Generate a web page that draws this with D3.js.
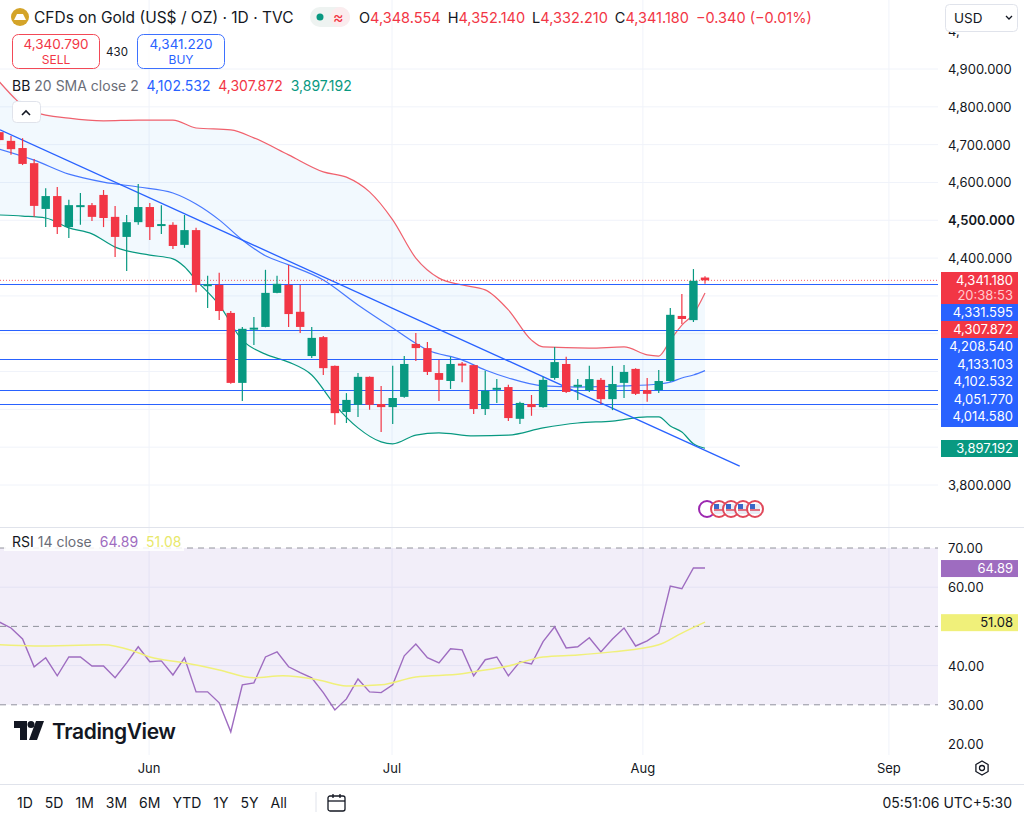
<!DOCTYPE html>
<html><head><meta charset="utf-8">
<script src="https://cdn.jsdelivr.net/npm/d3@7"></script>
<style>
body{margin:0;background:#fff;font-family:"Inter","Noto Sans",sans-serif;}
svg text{font-family:"Inter","Noto Sans",sans-serif;}
</style></head>
<body>
<svg id="chart" width="1024" height="822"></svg>
<script>
// candles: [index, open, high, low, close]
var candles = [
 [-1,4733,4739,4707,4712],[0,4710,4723,4673,4688],[1,4691,4717,4646,4649],[2,4651,4662,4509,4538],
 [3,4530,4585,4482,4564],[4,4564,4588,4464,4482],[5,4482,4554,4453,4540],[6,4536,4572,4488,4540],
 [7,4540,4546,4498,4509],[8,4567,4580,4482,4506],[9,4509,4538,4403,4456],[10,4456,4514,4366,4495],
 [11,4495,4596,4488,4535],[12,4535,4546,4448,4482],[13,4486,4540,4464,4490],[14,4488,4495,4424,4432],
 [15,4435,4514,4427,4474],[16,4474,4480,4310,4329],[17,4327,4353,4268,4331],[18,4329,4361,4236,4260],
 [19,4255,4260,4068,4070],[20,4070,4218,4022,4213],[21,4213,4244,4170,4216],[22,4218,4369,4217,4308],
 [23,4308,4353,4307,4332],[24,4329,4382,4218,4252],[25,4258,4329,4202,4218],[26,4141,4218,4136,4189],
 [27,4191,4194,4091,4109],[28,4115,4116,3959,3990],[29,3993,4043,3964,4025],[30,4012,4096,3980,4086],
 [31,4086,4087,3999,4012],[32,4014,4062,3940,4006],[33,4006,4115,3961,4030],[34,4033,4141,4031,4120],
 [35,4173,4202,4128,4162],[36,4162,4178,4091,4099],[37,4096,4131,4022,4078],[38,4075,4139,4054,4120],
 [39,4121,4125,4072,4117],[40,4117,4118,3988,4001],[41,4001,4102,3985,4049],[42,4054,4080,4017,4057],
 [43,4059,4065,3969,3977],[44,3975,4020,3961,4017],[45,4014,4038,3983,4006],[46,4006,4086,4004,4078],
 [47,4083,4165,4078,4125],[48,4120,4139,4043,4046],[49,4061,4080,4025,4065],[50,4051,4115,4046,4080],
 [51,4078,4083,4014,4027],[52,4027,4115,3998,4067],[53,4070,4117,4030,4099],[54,4107,4109,4038,4041],
 [55,4051,4083,4020,4041],[56,4051,4104,4043,4075],[57,4075,4268,4073,4250],[58,4247,4305,4226,4239],
 [59,4236,4371,4231,4340],[60,4348.554,4352.14,4332.21,4341.18]
];
// Bollinger bands: [index, value]
var bbUpper = [[-1,4866],[2,4786],[5,4770],[8,4763],[11,4765],[14,4765],[16,4744],[19,4739],[21,4718],
 [24,4673],[27,4628],[29,4614],[31,4575],[33,4501],[35,4400],[37,4347],[39,4329],[41,4316],[43,4263],
 [45,4183],[46,4165],[50,4162],[53,4165],[55,4144],[56,4141],[57,4183],[58,4223],[59,4252],[60,4307.872]];
var bbMiddle = [[-1,4688],[2,4659],[5,4622],[8,4601],[11,4588],[14,4572],[16,4543],[18,4501],[20,4448],
 [22,4406],[24,4382],[27,4342],[30,4276],[33,4215],[36,4157],[39,4131],[41,4104],[43,4083],[46,4062],
 [49,4059],[53,4062],[56,4067],[57,4072],[58,4083],[59,4091],[60,4102.532]];
var bbLower = [[-1,4514],[1,4511],[3,4506],[5,4480],[7,4464],[9,4429],[12,4408],[14,4398],[15,4377],
 [16,4342],[18,4276],[20,4183],[22,4146],[24,4125],[26,4091],[28,4012],[30,3951],[32,3914],[33,3909],
 [35,3932],[37,3938],[40,3930],[43,3932],[46,3951],[49,3964],[52,3969],[55,3980],[56,3980],[57,3956],
 [58,3940],[59,3909],[60,3897.192]];
var trendLine = [[-0.95,4739],[63,3850]];
var hLevels = [4331.595,4208.540,4133.103,4051.770,4014.580];
var priceTicks = [4900,4800,4700,4600,4500,4400,3800];
var gridPrices = [4900,4800,4700,4600,4500,4400,4300,4200,4100,4000,3900,3800];
// RSI
var rsi = [51.1,49.6,46.8,39.7,42.0,37.4,42.2,42.2,39.9,39.9,36.9,40.7,44.8,41.0,41.2,37.6,42.0,33.3,33.3,
 30.5,23.1,35.1,35.6,42.2,43.5,39.7,38.2,36.9,33.1,28.7,31.5,36.6,33.3,33.1,35.1,42.5,45.5,42.0,40.7,44.3,
 44.0,37.4,41.5,42.2,37.4,41.0,40.4,46.1,49.9,44.5,44.8,47.1,43.5,46.8,49.6,45.0,46.3,48.3,60.3,59.6,64.9,64.89];
var rsiMa = [[-1,45.3],[2,45.0],[8,45.3],[10.5,43.8],[12,42.2],[15,40.7],[18,38.9],[21,36.9],[23.5,37.4],
 [26.5,36.4],[29,34.8],[32,35.1],[35,37.1],[39,37.9],[40,38.4],[43,39.9],[46,42.2],[49,42.7],[52,43.5],
 [56,45.3],[58,48.3],[60,51.08]];
var rsiTicks = [70,60,50,40,30,20];
var monthTicks = [["Jun",11.94],["Jul",32.94],["Aug",54.63],["Sep",75.9]];
var ranges = ["1D","5D","1M","3M","6M","YTD","1Y","5Y","All"];

var RED = "#f23645", GREEN = "#089981", BLUE = "#2962ff", TXT = "#131722";
var svg = d3.select("#chart");
var x = d3.scaleLinear().domain([0,60]).range([11,705]);
var y = d3.scaleLinear().domain([3800,4900]).range([485,69]);
var yr = d3.scaleLinear().domain([20,70]).range([744,548]);
var fmt = d3.format(",.3f");

svg.append("clipPath").attr("id","mainClip").append("rect").attr("x",0).attr("y",0).attr("width",938).attr("height",527);
svg.append("clipPath").attr("id","rsiClip").append("rect").attr("x",0).attr("y",528).attr("width",938).attr("height",226);

// grid
var grid = svg.append("g");
grid.selectAll(".hg").data(gridPrices).enter().append("line")
  .attr("x1",0).attr("x2",938).attr("y1",d=>y(d)).attr("y2",d=>y(d)).attr("stroke","#f0f3fa");
grid.selectAll(".vg").data(monthTicks).enter().append("line")
  .attr("x1",d=>x(d[1])).attr("x2",d=>x(d[1])).attr("y1",0).attr("y2",755).attr("stroke","#f0f3fa");
grid.selectAll(".rg").data([60,40]).enter().append("line")
  .attr("x1",0).attr("x2",938).attr("y1",d=>yr(d)).attr("y2",d=>yr(d)).attr("stroke","#f0f3fa");

svg.append("line").attr("x1",0).attr("x2",1024).attr("y1",527.5).attr("y2",527.5).attr("stroke","#e0e3eb");
svg.append("line").attr("x1",0).attr("x2",1024).attr("y1",784.5).attr("y2",784.5).attr("stroke","#e0e3eb");

var main = svg.append("g").attr("clip-path","url(#mainClip)");

// band fill
var fillPts = bbUpper.map(d=>[x(d[0]),y(d[1])]).concat(bbLower.slice().reverse().map(d=>[x(d[0]),y(d[1])]));
main.append("path").attr("d","M"+fillPts.join("L")+"Z").attr("fill","rgba(33,150,243,0.06)");

var line = d3.line().x(d=>x(d[0])).y(d=>y(d[1])).curve(d3.curveMonotoneX);
main.append("path").datum(bbUpper).attr("d",line).attr("fill","none").attr("stroke","#f0616d").attr("stroke-width",1.2);
main.append("path").datum(bbMiddle).attr("d",line).attr("fill","none").attr("stroke",BLUE).attr("stroke-width",1.2).attr("opacity",0.85);
main.append("path").datum(bbLower).attr("d",line).attr("fill","none").attr("stroke",GREEN).attr("stroke-width",1.2);

// horizontal levels
main.selectAll(".hl").data(hLevels).enter().append("line")
  .attr("x1",0).attr("x2",938).attr("y1",d=>Math.round(y(d))+0.5).attr("y2",d=>Math.round(y(d))+0.5)
  .attr("stroke",BLUE).attr("stroke-width",1.2);
// trend line
main.append("line").attr("x1",x(trendLine[0][0])).attr("y1",y(trendLine[0][1]))
  .attr("x2",x(trendLine[1][0])).attr("y2",y(trendLine[1][1])).attr("stroke",BLUE).attr("stroke-width",1.3);
// last price dotted
var last = candles[candles.length-1][4];
main.append("line").attr("x1",0).attr("x2",938).attr("y1",y(last)).attr("y2",y(last))
  .attr("stroke",RED).attr("stroke-dasharray","1,2").attr("opacity",0.8);

// candles
var cg = main.selectAll(".c").data(candles).enter().append("g");
cg.append("line").attr("x1",d=>x(d[0])).attr("x2",d=>x(d[0])).attr("y1",d=>y(d[2])).attr("y2",d=>y(d[3]))
  .attr("stroke",d=>d[4]>=d[1]?GREEN:RED).attr("stroke-width",1.2);
cg.append("rect").attr("x",d=>x(d[0])-4.2).attr("width",8.4)
  .attr("y",d=>y(Math.max(d[1],d[4]))).attr("height",d=>Math.max(2,Math.abs(y(d[1])-y(d[4]))))
  .attr("fill",d=>d[4]>=d[1]?GREEN:RED);

// event icons
var ev = svg.append("g");
[0,1,2,3,4].forEach(function(k){
  var cx = 707+k*12;
  ev.append("circle").attr("cx",cx).attr("cy",509).attr("r",8).attr("fill","#fff").attr("stroke",k==0?"#9c27b0":"#e0485a").attr("stroke-width",2);
  if(k>0){ev.append("rect").attr("x",cx-5).attr("y",504).attr("width",10).attr("height",10).attr("fill","#e8ecf5");
    ev.append("rect").attr("x",cx-5).attr("y",504).attr("width",5).attr("height",5).attr("fill","#3a66c7");
    ev.append("line").attr("x1",cx-5).attr("x2",cx+5).attr("y1",510).attr("y2",510).attr("stroke","#e0485a").attr("stroke-width",1.5);}
});

// RSI pane
var rp = svg.append("g").attr("clip-path","url(#rsiClip)");
rp.append("rect").attr("x",0).attr("width",938).attr("y",yr(70)).attr("height",yr(30)-yr(70)).attr("fill","rgba(126,87,194,0.1)");
rp.selectAll(".rd").data([70,50,30]).enter().append("line")
  .attr("x1",0).attr("x2",938).attr("y1",d=>yr(d)).attr("y2",d=>yr(d))
  .attr("stroke","#787b86").attr("stroke-dasharray","6,5").attr("opacity",0.8);
var rl = d3.line().x((d,i)=>x(i-1)).y(d=>yr(d));
rp.append("path").datum(rsi).attr("d",rl).attr("fill","none").attr("stroke","#9e6cc0").attr("stroke-width",1.4);
var ml = d3.line().x(d=>x(d[0])).y(d=>yr(d[1])).curve(d3.curveMonotoneX);
rp.append("path").datum(rsiMa).attr("d",ml).attr("fill","none").attr("stroke","#f0f07a").attr("stroke-width",1.5);

// TradingView logo
var logo = svg.append("g").attr("transform","translate(14,721)");
logo.append("path").attr("d","M0 0H13V19H6V7H0Z").attr("fill",TXT);
logo.append("circle").attr("cx",17).attr("cy",3.5).attr("r",3.5).attr("fill",TXT);
logo.append("path").attr("d","M22 0H30L23 19H15Z").attr("fill",TXT);
svg.append("text").attr("x",52).attr("y",739).attr("font-size",21).attr("font-weight",600).attr("letter-spacing",-0.4).attr("fill",TXT).text("TradingView");

// right price axis labels
svg.selectAll(".pt").data(priceTicks).enter().append("text")
  .attr("x",948).attr("y",d=>y(d)+5).attr("font-size",13).attr("fill",TXT)
  .attr("font-weight",d=>d==4500?600:400).text(d=>fmt(d));
svg.append("text").attr("x",948).attr("y",36).attr("font-size",13).attr("fill",TXT).text("4,");

// price badges
var badges = [
  {y:272,h:32,c:RED,t:[fmt(last),"20:38:53"]},
  {y:304,h:17,c:BLUE,t:["4,331.595"]},
  {y:321,h:17,c:RED,t:["4,307.872"]},
  {y:338,h:89,c:BLUE,t:["4,208.540","4,133.103","4,102.532","4,051.770","4,014.580"]},
  {y:440,h:17,c:GREEN,t:["3,897.192"]}
];
badges.forEach(function(b){
  svg.append("rect").attr("x",941).attr("y",b.y).attr("width",77).attr("height",b.h).attr("fill",b.c);
  b.t.forEach(function(s,i){
    svg.append("text").attr("x",1013).attr("y",b.y+13+i*(b.t.length>2?17.6:15)).attr("text-anchor","end")
      .attr("font-size",13).attr("fill",i==1&&b.t.length==2?"#ffc9ce":"#fff").text(s);
  });
});

// RSI axis
svg.selectAll(".rt").data(rsiTicks).enter().append("text")
  .attr("x",948).attr("y",d=>yr(d)+5).attr("font-size",13).attr("fill",TXT).text(d=>d.toFixed(2));
svg.append("rect").attr("x",941).attr("y",yr(64.89)-8).attr("width",77).attr("height",17).attr("fill","#9e6cc0");
svg.append("text").attr("x",1013).attr("y",yr(64.89)+5).attr("text-anchor","end").attr("font-size",13).attr("fill","#fff").text("64.89");
svg.append("rect").attr("x",941).attr("y",yr(51.08)-8).attr("width",77).attr("height",17).attr("fill","#f0f07a");
svg.append("text").attr("x",1013).attr("y",yr(51.08)+5).attr("text-anchor","end").attr("font-size",13).attr("fill",TXT).text("51.08");

// time axis
svg.selectAll(".mt").data(monthTicks).enter().append("text")
  .attr("x",d=>x(d[1])).attr("y",773).attr("text-anchor","middle").attr("font-size",13).attr("fill",TXT).text(d=>d[0]);
var gearPts = d3.range(6).map(function(k){var a=k*Math.PI/3+Math.PI/6;return (7*Math.cos(a)).toFixed(1)+","+(7*Math.sin(a)).toFixed(1);});
var gear = svg.append("g").attr("transform","translate(982,768)");
gear.append("path").attr("d","M"+gearPts.join("L")+"Z").attr("fill","none").attr("stroke",TXT).attr("stroke-width",1.3).attr("stroke-linejoin","round");
gear.append("circle").attr("r",2.5).attr("fill","none").attr("stroke",TXT).attr("stroke-width",1.3);

// bottom toolbar
var tx = 17;
ranges.forEach(function(r){
  var t = svg.append("text").attr("x",tx).attr("y",808).attr("font-size",14).attr("fill",TXT).text(r);
  tx += t.node().getComputedTextLength()+12;
});
svg.append("line").attr("x1",316).attr("x2",316).attr("y1",792).attr("y2",812).attr("stroke","#e0e3eb");
var cal = svg.append("g").attr("transform","translate(328,794)").attr("fill","none").attr("stroke",TXT).attr("stroke-width",1.3);
cal.append("rect").attr("x",0).attr("y",2).attr("width",17).attr("height",15).attr("rx",2);
cal.append("line").attr("x1",0).attr("x2",17).attr("y1",7).attr("y2",7);
cal.append("line").attr("x1",5).attr("x2",5).attr("y1",0).attr("y2",4);
cal.append("line").attr("x1",12).attr("x2",12).attr("y1",0).attr("y2",4);
svg.append("text").attr("x",1012).attr("y",808).attr("text-anchor","end").attr("font-size",14).attr("fill",TXT).text("05:51:06 UTC+5:30");

// header
svg.append("circle").attr("cx",20).attr("cy",17).attr("r",9).attr("fill","#d4a429");
svg.append("path").attr("d","M14 20L17 14H23L26 20Z").attr("fill","#fff");
svg.append("text").attr("x",34).attr("y",23).attr("font-size",15.5).attr("fill",TXT).text("CFDs on Gold (US$ / OZ) · 1D · TVC");
svg.append("rect").attr("x",310).attr("y",7).attr("width",40).attr("height",20).attr("rx",10).attr("fill","#eef3f1");
svg.append("rect").attr("x",330).attr("y",7).attr("width",20).attr("height",20).attr("rx",10).attr("fill","#fbecee");
svg.append("circle").attr("cx",320).attr("cy",17).attr("r",3.5).attr("fill",GREEN);
svg.append("text").attr("x",333).attr("y",23).attr("font-size",16).attr("fill",RED).text("≈");
var ohlc = svg.append("text").attr("x",359).attr("y",23).attr("font-size",14.5);
[["O","4,348.554"],["H","4,352.140"],["L","4,332.210"],["C","4,341.180"]].forEach(function(p,i){
  ohlc.append("tspan").attr("fill",TXT).attr("dx",i?7:0).text(p[0]);
  ohlc.append("tspan").attr("fill",RED).text(p[1]);
});
ohlc.append("tspan").attr("fill",RED).attr("dx",7).text("−0.340 (−0.01%)");

// sell/buy
[[12,RED,"4,340.790","SELL"],[137,BLUE,"4,341.220","BUY"]].forEach(function(b){
  svg.append("rect").attr("x",b[0]+0.5).attr("y",34.5).attr("width",87).attr("height",34).attr("rx",6)
    .attr("fill","#fff").attr("stroke",b[1]).attr("opacity",0.9);
  svg.append("text").attr("x",b[0]+44).attr("y",49).attr("text-anchor","middle").attr("font-size",13.5).attr("fill",b[1]).text(b[2]);
  svg.append("text").attr("x",b[0]+44).attr("y",64).attr("text-anchor","middle").attr("font-size",12).attr("fill",b[1]).text(b[3]);
});
svg.append("text").attr("x",117).attr("y",56).attr("text-anchor","middle").attr("font-size",11.5).attr("fill",TXT).text("430");

// BB legend
var bb = svg.append("text").attr("x",12).attr("y",91).attr("font-size",14);
bb.append("tspan").attr("fill",TXT).text("BB");
bb.append("tspan").attr("fill","#6a6d78").attr("dx",4).text("20 SMA close 2");
bb.append("tspan").attr("fill",BLUE).attr("dx",8).text("4,102.532");
bb.append("tspan").attr("fill",RED).attr("dx",8).text("4,307.872");
bb.append("tspan").attr("fill",GREEN).attr("dx",8).text("3,897.192");
svg.append("rect").attr("x",12.5).attr("y",101.5).attr("width",28).attr("height",21).attr("rx",4).attr("fill","#fff").attr("stroke","#e0e3eb");
svg.append("path").attr("d","M22 115L26 111L30 115").attr("fill","none").attr("stroke",TXT).attr("stroke-width",1.6);

// RSI legend
svg.append("rect").attr("x",4).attr("y",533).attr("width",180).attr("height",18).attr("fill","rgba(255,255,255,0.85)");
var rs = svg.append("text").attr("x",12).attr("y",547).attr("font-size",14);
rs.append("tspan").attr("fill",TXT).text("RSI");
rs.append("tspan").attr("fill","#6a6d78").attr("dx",4).text("14 close");
rs.append("tspan").attr("fill","#9e6cc0").attr("dx",8).text("64.89");
rs.append("tspan").attr("fill","#e8e86a").attr("dx",8).text("51.08");

// USD dropdown
svg.append("rect").attr("x",945.5).attr("y",4.5).attr("width",72).attr("height",27).attr("rx",4).attr("fill","#fff").attr("stroke","#e0e3eb");
svg.append("text").attr("x",954).attr("y",23).attr("font-size",13.5).attr("fill",TXT).text("USD");
svg.append("path").attr("d","M1006 16L1009 19L1012 16").attr("fill","none").attr("stroke",TXT).attr("stroke-width",1.3);
</script>
</body></html>
